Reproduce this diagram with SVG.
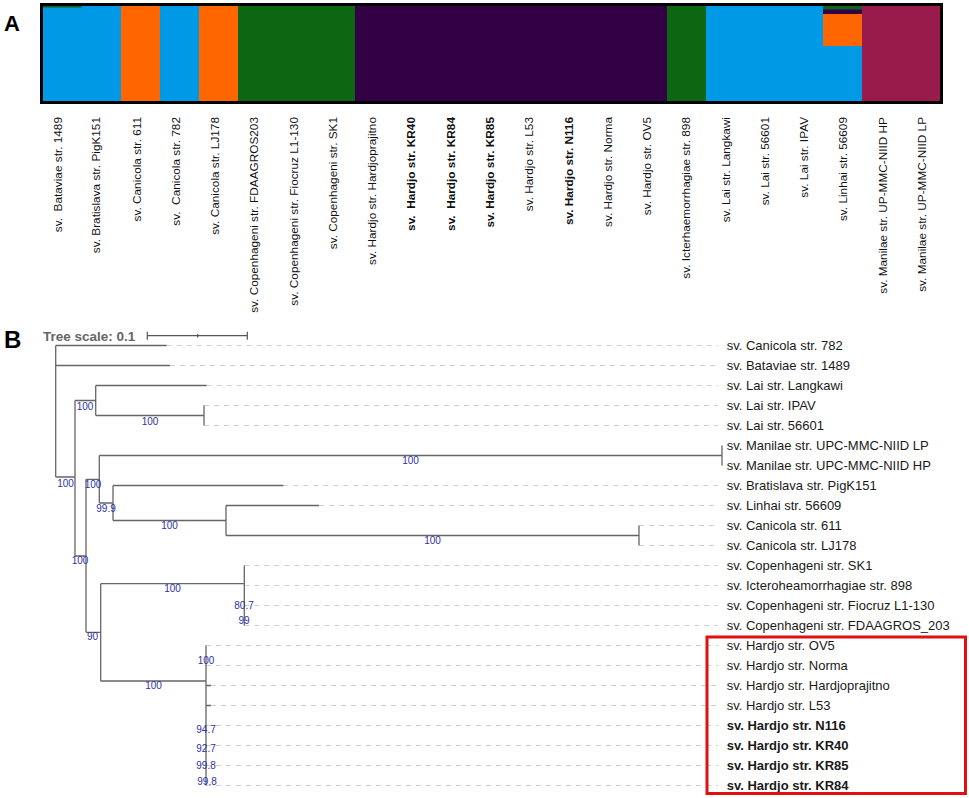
<svg xmlns="http://www.w3.org/2000/svg" width="969" height="798" viewBox="0 0 969 798">
<style>
.pl{font-family:"Liberation Sans",Arial,sans-serif;font-weight:bold;fill:#000}
.cl{font-family:"Liberation Sans",Arial,sans-serif;font-size:11.8px;fill:#111;white-space:pre}
.b{font-weight:bold}
.br{stroke:#666;stroke-width:1.3;fill:none}
.ds{stroke:#cfcfcf;stroke-width:1;stroke-dasharray:5 5;fill:none}
.lf{font-family:"Liberation Sans",Arial,sans-serif;font-size:13px;fill:#1a1a1a}
.bs{font-family:"Liberation Sans",Arial,sans-serif;font-size:10px;fill:#3030a8;text-anchor:middle}
</style>
<rect width="969" height="798" fill="#fff"/>
<text class="pl" x="4" y="31" font-size="22">A</text>
<text class="pl" x="4" y="348" font-size="24">B</text>

<g id="structure-bar">
<rect x="43" y="6" width="78" height="95" fill="#0099e5"/>
<rect x="43" y="6" width="39" height="1.5" fill="#0d6611"/>
<rect x="121" y="6" width="39" height="95" fill="#ff6600"/>
<rect x="160" y="6" width="39" height="95" fill="#0099e5"/>
<rect x="199" y="6" width="39" height="95" fill="#ff6600"/>
<rect x="238" y="6" width="117" height="95" fill="#0d6611"/>
<rect x="355" y="6" width="312" height="95" fill="#330045"/>
<rect x="667" y="6" width="39" height="95" fill="#0d6611"/>
<rect x="706" y="6" width="156" height="95" fill="#0099e5"/>
<rect x="823" y="6" width="39" height="3.3" fill="#0d6611"/>
<rect x="823" y="9.3" width="39" height="4.7" fill="#330045"/>
<rect x="823" y="14" width="39" height="32" fill="#ff6600"/>
<rect x="862" y="6" width="78" height="95" fill="#991b4b"/>
<rect x="41.5" y="4.5" width="900" height="98" fill="none" stroke="#000" stroke-width="3"/>
</g>

<g id="column-labels" class="cl" text-anchor="end">
<text transform="translate(62,117) rotate(-90)" xml:space="preserve">sv.  Bataviae str. 1489</text>
<text transform="translate(100.3,117) rotate(-90)">sv. Bratislava str. PigK151</text>
<text transform="translate(140.5,117) rotate(-90)">sv. Canicola str. 611</text>
<text transform="translate(179.8,117) rotate(-90)" xml:space="preserve">sv.  Canicola str. 782</text>
<text transform="translate(219.1,117) rotate(-90)">sv. Canicola str. LJ178</text>
<text transform="translate(258.4,117) rotate(-90)">sv. Copenhageni str. FDAAGROS203</text>
<text transform="translate(297.6,117) rotate(-90)">sv. Copenhageni str. Fiocruz L1-130</text>
<text transform="translate(336.9,117) rotate(-90)">sv. Copenhageni str. SK1</text>
<text transform="translate(376.2,117) rotate(-90)">sv. Hardjo str. Hardjoprajitno</text>
<text class="b" transform="translate(415.4,117) rotate(-90)" xml:space="preserve">sv.  Hardjo str. KR40</text>
<text class="b" transform="translate(454.7,117) rotate(-90)" xml:space="preserve">sv.  Hardjo str. KR84</text>
<text class="b" transform="translate(494,117) rotate(-90)">sv. Hardjo str. KR85</text>
<text transform="translate(533.2,117) rotate(-90)">sv. Hardjo str. L53</text>
<text class="b" transform="translate(572.5,117) rotate(-90)">sv. Hardjo str. N116</text>
<text transform="translate(611.8,117) rotate(-90)">sv. Hardjo str. Norma</text>
<text transform="translate(651,117) rotate(-90)">sv. Hardjo str. OV5</text>
<text transform="translate(690.3,117) rotate(-90)">sv. Icterhaemorrhagiae str. 898</text>
<text transform="translate(729.6,117) rotate(-90)">sv. Lai str. Langkawi</text>
<text transform="translate(768.9,117) rotate(-90)">sv. Lai str. 56601</text>
<text transform="translate(808.1,117) rotate(-90)">sv. Lai str. IPAV</text>
<text transform="translate(847.4,117) rotate(-90)">sv. Linhai str. 56609</text>
<text transform="translate(886.7,117) rotate(-90)">sv. Manilae str. UP-MMC-NIID HP</text>
<text transform="translate(926,117) rotate(-90)">sv. Manilae str. UP-MMC-NIID LP</text>
</g>

<g id="tree-scale">
<text x="43" y="340.5" font-family="Liberation Sans, Arial, sans-serif" font-size="13.5" font-weight="bold" fill="#666">Tree scale: 0.1</text>
<path d="M147.3 335.7H247.3M147.3 331.7V339.7M247.3 331.7V339.7M197.7 334V337.5" stroke="#555" stroke-width="1.2" fill="none"/>
</g>

<g id="connectors">
<g class="ds">
<path d="M166.7 345.5H718M170 365.5H718M206.7 385.5H718M204 405.5H718M204 425.5H718M283.3 485.5H718M319 505.5H718M639 525.5H718M639 545.5H718M244.3 565.5H718M244.3 585.5H718M244.3 605.5H718M244.3 625.5H718M206 645.5H718M206 665.5H718M211 685.5H718M211 705.5H718M206 725.5H718M206 745.5H718M206 765.5H718M206 785.5H718"/>
</g>
<g class="br">
<path d="M55.7 345.5V477M55.7 345.5H166.7M55.7 365.5H170M55.7 477H75"/>
<path d="M75 400.5V556M75 400.5H95.7M75 556H86"/>
<path d="M95.7 385.5V415.5M95.7 385.5H206.7M95.7 415.5H204M204 405.5V425.5"/>
<path d="M86 479.3V632.3M86 479.3H99.3M86 632.3H100.7"/>
<path d="M99.3 455.5V503M99.3 455.5H722M722 445.5V465.5M99.3 503H113"/>
<path d="M113 485.5V520.5M113 485.5H283.3M113 520.5H226"/>
<path d="M226 505.5V535.5M226 505.5H319M226 535.5H639M639 525.5V545.5"/>
<path d="M100.7 583.7V681M100.7 583.7H244.3M244.3 565.5V625.5M100.7 681H206"/>
<path d="M206 645.5V785.5M206 685.5H211M206 705.5H211"/>
</g>
</g>

<g id="supports">
<text class="bs" x="85" y="409.6">100</text>
<text class="bs" x="150" y="424.6">100</text>
<text class="bs" x="410.5" y="464.2">100</text>
<text class="bs" x="65.5" y="486.6">100</text>
<text class="bs" x="93" y="487.9">100</text>
<text class="bs" x="106" y="511.9">99.9</text>
<text class="bs" x="169.5" y="529.2">100</text>
<text class="bs" x="432.5" y="544.2">100</text>
<text class="bs" x="80" y="564.2">100</text>
<text class="bs" x="172.5" y="591.9">100</text>
<text class="bs" x="244" y="609.2">80.7</text>
<text class="bs" x="244" y="624.2">99</text>
<text class="bs" x="92.5" y="640.2">90</text>
<text class="bs" x="206" y="664.2">100</text>
<text class="bs" x="153.5" y="689.2">100</text>
<text class="bs" x="206" y="732.8">94.7</text>
<text class="bs" x="206" y="751.8">92.7</text>
<text class="bs" x="206" y="769.2">99.8</text>
<text class="bs" x="207" y="784.5">99.8</text>
</g>

<g id="leaves" class="lf">
<text id="leaf-canicola782" x="726.7" y="350">sv. Canicola str. 782</text>
<text id="leaf-bataviae" x="726.7" y="370">sv. Bataviae str. 1489</text>
<text id="leaf-lai-langkawi" x="726.7" y="390">sv. Lai str. Langkawi</text>
<text id="leaf-lai-ipav" x="726.7" y="410">sv. Lai str. IPAV</text>
<text id="leaf-lai-56601" x="726.7" y="430">sv. Lai str. 56601</text>
<text id="leaf-manilae-lp" x="726.7" y="450">sv. Manilae str. UPC-MMC-NIID LP</text>
<text id="leaf-manilae-hp" x="726.7" y="470">sv. Manilae str. UPC-MMC-NIID HP</text>
<text id="leaf-bratislava" x="726.7" y="490">sv. Bratislava str. PigK151</text>
<text id="leaf-linhai" x="726.7" y="510">sv. Linhai str. 56609</text>
<text id="leaf-canicola611" x="726.7" y="530">sv. Canicola str. 611</text>
<text id="leaf-canicola-lj178" x="726.7" y="550">sv. Canicola str. LJ178</text>
<text id="leaf-copen-sk1" x="726.7" y="570">sv. Copenhageni str. SK1</text>
<text id="leaf-ictero" x="726.7" y="590">sv. Icteroheamorrhagiae str. 898</text>
<text id="leaf-copen-fiocruz" x="726.7" y="610">sv. Copenhageni str. Fiocruz L1-130</text>
<text id="leaf-copen-fdaagros" x="726.7" y="630">sv. Copenhageni str. FDAAGROS_203</text>
<text id="leaf-hardjo-ov5" x="726.7" y="650">sv. Hardjo str. OV5</text>
<text id="leaf-hardjo-norma" x="726.7" y="670">sv. Hardjo str. Norma</text>
<text id="leaf-hardjo-hardjoprajitno" x="726.7" y="690">sv. Hardjo str. Hardjoprajitno</text>
<text id="leaf-hardjo-l53" x="726.7" y="710">sv. Hardjo str. L53</text>
<text id="leaf-hardjo-n116" class="b" x="726.7" y="730">sv. Hardjo str. N116</text>
<text id="leaf-hardjo-kr40" class="b" x="726.7" y="750">sv. Hardjo str. KR40</text>
<text id="leaf-hardjo-kr85" class="b" x="726.7" y="770">sv. Hardjo str. KR85</text>
<text id="leaf-hardjo-kr84" class="b" x="726.7" y="790">sv. Hardjo str. KR84</text>
</g>

<rect id="highlight-box" x="707" y="637" width="258.5" height="156.5" fill="none" stroke="#e01010" stroke-width="3"/>
</svg>
